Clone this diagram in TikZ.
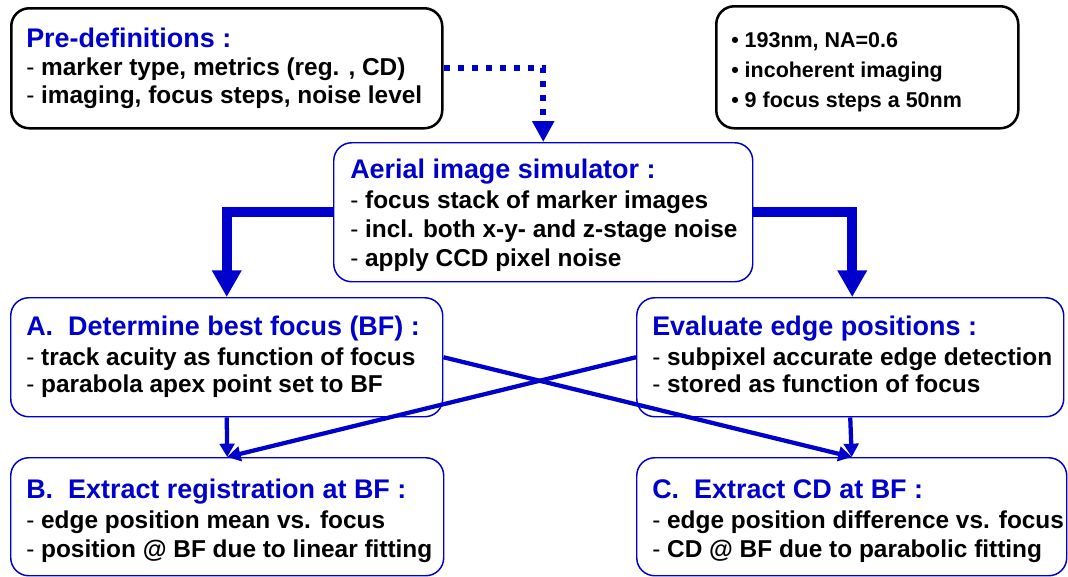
\documentclass[tikz,border=0pt]{standalone}
\usepackage{fontspec}
\setmainfont{Liberation Sans}
\usetikzlibrary{arrows.meta,calc}
\definecolor{flowblue}{RGB}{0,0,204}
\newcommand{\dash}{{\mdseries -}\ }
\begin{document}
\begin{tikzpicture}[x=0.75pt,y=-0.75pt,
  box/.style={rounded corners=13.5pt, inner sep=0pt, anchor=north west},
  boxsize/.style 2 args={minimum width=#1*0.75pt, minimum height=#2*0.75pt},
  blackbox/.style={box, draw=black, line width=1.9pt},
  bluebox/.style={box, draw=flowblue, line width=1.1pt},
  ttl/.style={anchor=base west, inner sep=0pt, text=flowblue,
    font=\fontsize{20.2}{24}\selectfont\bfseries},
  txt/.style={anchor=base west, inner sep=0pt,
    font=\fontsize{18.3}{22}\selectfont\bfseries},
  spec/.style={anchor=base west, inner sep=0pt,
    font=\fontsize{16.1}{19}\selectfont\bfseries},
  dotarrow/.style={draw=flowblue, line width=4.5pt, dash pattern=on 4.5pt off 6pt,
    -{Triangle[length=15.75pt, width=15.75pt]}},
  thickarrow/.style={draw=flowblue, line width=7.5pt, line join=miter,
    -{Triangle[length=20pt, width=21pt]}},
  thinarrow/.style={draw=flowblue, line width=3.2pt,
    -{Triangle[length=10pt, width=11pt]}}
]
\useasboundingbox (0,0) rectangle (1068,576);
\fill[white] (0,0) rectangle (1068,576);

% boxes
\node[blackbox, boxsize={431}{120}] (pre) at (10,7) {};
\node[blackbox, boxsize={302}{122}] (specs) at (715,5) {};
\node[bluebox, boxsize={419}{139}] (aerial) at (333,142) {};
\node[bluebox, boxsize={432}{119}] (bestfocus) at (10,297) {};
\node[bluebox, boxsize={427}{119}] (edges) at (636,297) {};
\node[bluebox, boxsize={433}{118}] (registration) at (10,457) {};
\node[bluebox, boxsize={430}{118}] (cd) at (636,457) {};

% pre-definitions
\node[ttl] (preT) at (26,47) {Pre-definitions :};
\node[txt] (pre1) at (26,75) {\dash marker type, metrics (reg. , CD)};
\node[txt] (pre2) at (26,103) {\dash imaging, focus steps, noise level};

% simulation settings
\node[spec] (spec1) at (731,47) {• 193nm, NA=0.6};
\node[spec] (spec2) at (731,77) {• incoherent imaging};
\node[spec] (spec3) at (731,107) {• 9 focus steps a 50nm};

% aerial image simulator
\node[ttl] (aerialT) at (350,178) {Aerial image simulator :};
\node[txt] (aerial1) at (350,208) {\dash focus stack of marker images};
\node[txt] (aerial2) at (350,237) {\dash incl. both x-y- and z-stage noise};
\node[txt] (aerial3) at (350,266) {\dash apply CCD pixel noise};

% best focus
\node[ttl] (bestfocusT) at (26,335) {A.\ \ Determine best focus (BF) :};
\node[txt] (bestfocus1) at (26,365) {\dash track acuity as function of focus};
\node[txt] (bestfocus2) at (26,392) {\dash parabola apex point set to BF};

% edge positions
\node[ttl] (edgesT) at (652,335) {Evaluate edge positions :};
\node[txt] (edges1) at (652,365) {\dash subpixel accurate edge detection};
\node[txt] (edges2) at (652,392) {\dash stored as function of focus};

% registration
\node[ttl] (registrationT) at (26,498) {B.\ \ Extract registration at BF :};
\node[txt] (registration1) at (26,528) {\dash edge position mean vs. focus};
\node[txt] (registration2) at (26,557) {\dash position @ BF due to linear fitting};

% critical dimension
\node[ttl] (cdT) at (652,498) {C.\ \ Extract CD at BF :};
\node[txt] (cd1) at (652,528) {\dash edge position difference vs. focus};
\node[txt] (cd2) at (652,557) {\dash CD @ BF due to parabolic fitting};

% connectors
\draw[dotarrow] (pre.east) -| (aerial.north);
\draw[thickarrow] (aerial.west) -| (bestfocus.north);
\draw[thickarrow] (aerial.east) -| ([xshift=1.5pt]edges.north);
\draw[thinarrow] (bestfocus.south) -- (registration.north);
\draw[thinarrow] (edges.south) -- (cd.north);
\draw[thinarrow] (bestfocus.east) -- (cd.north);
\draw[thinarrow] (edges.west) -- (registration.north);
\end{tikzpicture}
\end{document}
